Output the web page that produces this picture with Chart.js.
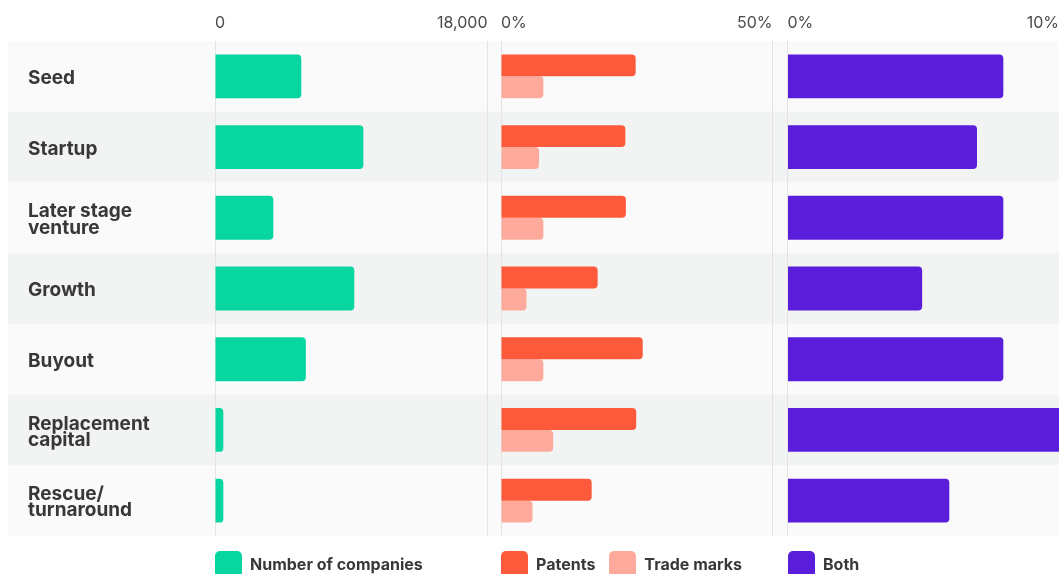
<!DOCTYPE html>
<html>
<head>
<meta charset="utf-8">
<script src="https://cdn.jsdelivr.net/npm/chart.js@4.4.1/dist/chart.umd.min.js"></script>
<style>
  html, body { margin: 0; padding: 0; background: #ffffff; overflow: hidden; }
  #wrap { position: relative; width: 1059px; height: 574px; overflow: hidden; }
  #wrap canvas { position: absolute; left: 0; top: 0; }
  .leg { position: absolute; top: 551px; display: flex; align-items: center;
         font-family: Inter, "Noto Sans", sans-serif; font-weight: 700; font-size: 16px; color: #383838; white-space: nowrap; }
  .item { display: flex; align-items: center; margin-right: 14px; }
  .item span.tx { position: relative; top: -1px; }
  .sw { width: 27px; height: 27px; border-radius: 5px; margin-right: 8px; }
</style>
</head>
<body>
<div id="wrap">
  <canvas id="c1" width="1059" height="574"></canvas>
  <canvas id="c2" width="1059" height="574"></canvas>
  <canvas id="c3" width="1059" height="574"></canvas>
</div>
<script>
// ---- data ----
const categories = [['Seed'], ['Startup'], ['Later stage', 'venture'], ['Growth'], ['Buyout'], ['Replacement', 'capital'], ['Rescue/', 'turnaround']];
const companies  = [5700, 9800, 3850, 9200, 6000, 550, 550];
const patents    = [24.8, 22.9, 23.0, 17.8, 26.1, 24.9, 16.7];
const tradeMarks = [7.8, 7.0, 7.8, 4.7, 7.8, 9.6, 5.8];
const both       = [7.95, 6.98, 7.95, 4.96, 7.95, 11.0, 5.96];
const companyTicks = [0, 18000];
const ipTicks      = [0, 50];
const bothTicks    = [0, 10];

// ---- style ----
const FONT = 'Inter, "Noto Sans", sans-serif';
const GREEN = '#07d6a0', RED = '#fd593b', SALMON = '#fdaa9d', PURPLE = '#5a1edb';
const GRID = '#e3e3e3';

const bandPlugin = {
  id: 'bands',
  beforeDraw(chart) {
    const { ctx, chartArea, scales } = chart;
    const y = scales.y;
    const n = categories.length;
    const h = (chartArea.bottom - chartArea.top) / n;
    ctx.save();
    for (let i = 0; i < n; i++) {
      ctx.fillStyle = i % 2 ? '#f2f4f3' : '#fafafa';
      const yc = y.getPixelForValue(i);
      ctx.fillRect(8, yc - h / 2, chart.width - 8, h);
    }
    ctx.restore();
  }
};

function xScale(tickVals, fmt) {
  return {
    position: 'top',
    min: tickVals[0],
    max: tickVals[tickVals.length - 1],
    afterBuildTicks(scale) { scale.ticks = tickVals.map(v => ({ value: v })); },
    afterFit(scale) { scale.height = 41; scale.paddingLeft = 0; scale.paddingRight = 0; },
    grid: { color: GRID, drawTicks: false, lineWidth: 1 },
    border: { display: false },
    ticks: { align: 'inner', padding: 8, color: '#4a4a4a', font: { family: FONT, size: 16 },
             maxRotation: 0, autoSkip: false, callback: (v) => fmt(v) }
  };
}

function makeChart(id, datasets, tickVals, fmt, padL, padR, showY, plugins) {
  return new Chart(document.getElementById(id), {
    type: 'bar',
    data: { labels: categories, datasets },
    options: {
      responsive: false,
      animation: false,
      events: [],
      indexAxis: 'y',
      layout: { autoPadding: false, padding: { left: padL, right: padR, top: 0, bottom: 38 } },
      plugins: { legend: { display: false }, tooltip: { enabled: false } },
      datasets: { bar: { categoryPercentage: 0.62, barPercentage: 1, borderRadius: 4, borderSkipped: 'start' } },
      scales: {
        x: xScale(tickVals, fmt),
        y: {
          display: showY,
          grid: { display: false },
          border: { display: false },
          afterFit(scale) { if (showY) scale.width = 187; },
          ticks: { crossAlign: 'far', autoSkip: false, color: '#383838', labelOffset: 2,
                   font: { family: FONT, size: 19, weight: '700', lineHeight: 0.85 } }
        }
      }
    },
    plugins: plugins || []
  });
}

const fmtNum = v => v.toLocaleString('en-US');
const fmtPct = v => v + '%';

const c1 = makeChart('c1', [
  { label: 'Number of companies', data: companies, backgroundColor: GREEN }
], companyTicks, fmtNum, 28, 1059 - 487.5, true, [bandPlugin]);

const c2 = makeChart('c2', [
  { label: 'Patents', data: patents, backgroundColor: RED },
  { label: 'Trade marks', data: tradeMarks, backgroundColor: SALMON }
], ipTicks, fmtPct, 501, 1059 - 772.5, false);

const c3 = makeChart('c3', [
  { label: 'Both', data: both, backgroundColor: PURPLE }
], bothTicks, fmtPct, 787.5, 0, false);

// ---- HTML legends, one per panel, aligned to each chart area ----
const wrap = document.getElementById('wrap');
[c1, c2, c3].forEach(ch => {
  const leg = document.createElement('div');
  leg.className = 'leg';
  leg.style.left = Math.round(ch.chartArea.left) + 'px';
  ch.data.datasets.forEach(ds => {
    const it = document.createElement('div');
    it.className = 'item';
    const sw = document.createElement('span');
    sw.className = 'sw';
    sw.style.background = ds.backgroundColor;
    const tx = document.createElement('span');
    tx.className = 'tx';
    tx.textContent = ds.label;
    it.appendChild(sw); it.appendChild(tx);
    leg.appendChild(it);
  });
  wrap.appendChild(leg);
});
</script>
</body>
</html>
